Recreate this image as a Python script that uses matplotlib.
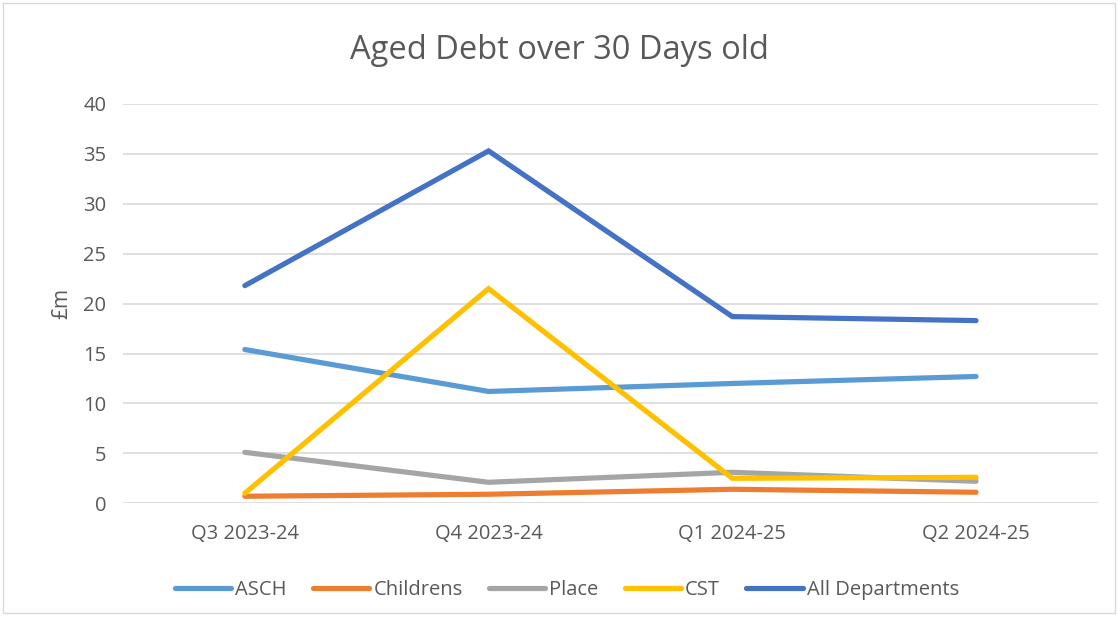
import matplotlib.pyplot as plt
from matplotlib.patches import Rectangle

# Chart data
QUARTERS = ["Q3 2023-24", "Q4 2023-24", "Q1 2024-25", "Q2 2024-25"]
asch = [15.4, 11.2, 12.0, 12.7]
childrens = [0.7, 0.9, 1.4, 1.1]
place = [5.1, 2.1, 3.1, 2.2]
cst = [1.0, 21.5, 2.5, 2.6]
all_departments = [21.8, 35.3, 18.7, 18.3]

SERIES = [
    ("ASCH", asch, "#5B9BD5"),
    ("Childrens", childrens, "#ED7D31"),
    ("Place", place, "#A5A5A5"),
    ("CST", cst, "#FFC000"),
    ("All Departments", all_departments, "#4472C4"),
]

TEXT_COLOR = "#595959"
plt.rcParams['font.family'] = ['Open Sans', 'DejaVu Sans']

fig = plt.figure(figsize=(11.18, 6.19), dpi=100)
ax = fig.add_axes([0.110, 0.187, 0.872, 0.645])

x = list(range(len(QUARTERS)))
for name, vals, color in SERIES:
    ax.plot(x, vals, color=color, linewidth=3.75, solid_capstyle='round',
            solid_joinstyle='miter', label=name)

ax.set_xlim(-0.5, len(QUARTERS) - 0.5)
ax.set_ylim(0, 40)
ax.set_yticks(range(0, 41, 5))
ax.set_xticks(x)
ax.set_xticklabels(QUARTERS)
ax.grid(axis='y', color='#D9D9D9', linewidth=1.2)
ax.set_axisbelow(True)
for side in ['top', 'right', 'left', 'bottom']:
    ax.spines[side].set_visible(False)
ax.tick_params(axis='both', length=0, labelsize=14.5, colors=TEXT_COLOR, pad=12)
ax.tick_params(axis='x', pad=15)
ax.set_ylabel('£m', fontsize=15, color=TEXT_COLOR, labelpad=8)

fig.suptitle('Aged Debt over 30 Days old', fontsize=23.5, color=TEXT_COLOR, y=0.945)

fig.legend(loc='center', bbox_to_anchor=(0.507, 0.047), ncol=5, frameon=False,
           fontsize=14.5, handlelength=2.8, columnspacing=1.3, handletextpad=0.2,
           labelcolor=TEXT_COLOR)

# thin grey frame around the chart area
fig.patches.append(Rectangle((0.003, 0.01), 0.994, 0.985, transform=fig.transFigure,
                             fill=False, edgecolor='#D9D9D9', linewidth=1))

fig.savefig('out.png', dpi=100)
